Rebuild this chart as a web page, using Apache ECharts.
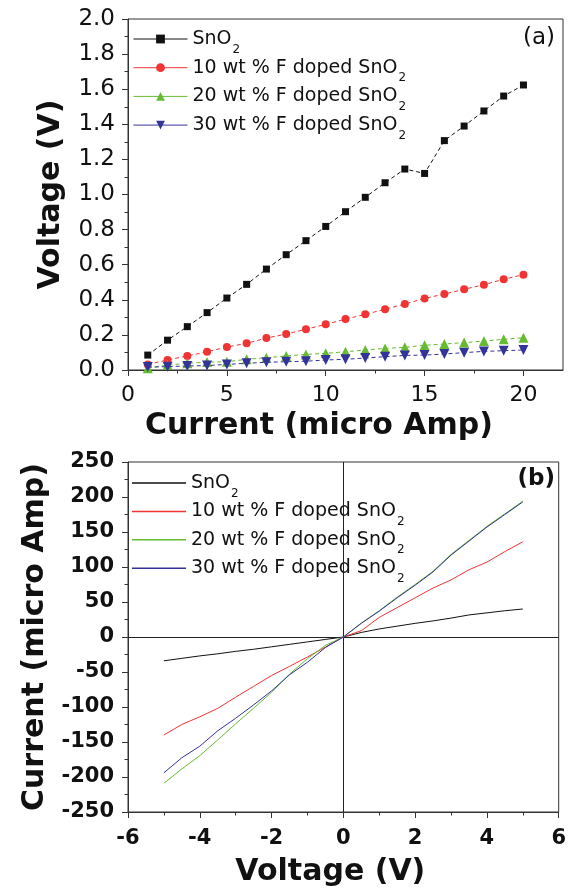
<!DOCTYPE html>
<html>
<head>
<meta charset="utf-8">
<script src="https://cdn.jsdelivr.net/npm/echarts@6/dist/echarts.min.js"></script>
<style>
  html, body { margin: 0; padding: 0; background: #fff; }
  #chart { width: 569px; height: 890px; }
</style>
</head>
<body>
<div id="chart"></div>
<script>
// ---- (a) voltage measured at each applied current (µA) ----
const currentUA = [1, 2, 3, 4, 5, 6, 7, 8, 9, 10, 11, 12, 13, 14, 15, 16, 17, 18, 19, 20];
const voltSnO2 = [0.085, 0.17, 0.247, 0.327, 0.41, 0.488, 0.575, 0.657, 0.737, 0.818, 0.902, 0.984, 1.067, 1.145, 1.12, 1.307, 1.39, 1.476, 1.561, 1.624];
const volt10F  = [0.032, 0.057, 0.08, 0.104, 0.131, 0.152, 0.182, 0.205, 0.232, 0.26, 0.29, 0.317, 0.346, 0.376, 0.408, 0.433, 0.46, 0.486, 0.517, 0.543];
const volt20F  = [0.01, 0.028, 0.038, 0.045, 0.047, 0.061, 0.07, 0.08, 0.089, 0.095, 0.104, 0.114, 0.123, 0.129, 0.141, 0.148, 0.156, 0.165, 0.175, 0.184];
const volt30F  = [0.017, 0.019, 0.023, 0.025, 0.032, 0.038, 0.044, 0.047, 0.05, 0.057, 0.061, 0.068, 0.076, 0.083, 0.085, 0.091, 0.099, 0.106, 0.11, 0.114];

// ---- (b) current measured during the voltage sweep ----
const sweepV = [-5, -4.5, -4, -3.5, -3, -2.5, -2, -1.5, -1, -0.5, 0, 0.5, 1, 1.5, 2, 2.5, 3, 3.5, 4, 4.5, 5];
const ampSnO2 = [-34, -30.5, -27, -24, -20.5, -17.5, -14, -10.5, -7, -3.5, 0, 6.5, 11.5, 15.5, 19.5, 23, 27, 31.5, 34.5, 37.5, 40];
const amp10F  = [-140, -125, -114, -102, -86, -70.5, -55, -42, -28.5, -14.5, 0, 9, 28, 42, 56, 70, 81.5, 96, 107, 122, 136];
const amp20F  = [-209, -188.5, -169.5, -147, -124, -101.7, -79, -53, -31, -12, 0, 20, 37.5, 57, 75, 94, 118, 138, 158, 176, 194];
const amp30F  = [-194, -172.5, -156, -134, -116, -97, -77, -54, -36, -15, 0, 19.5, 37, 56, 74, 93, 117, 137, 157, 175, 193];

// ---- labels / ticks ----
const sampleNames = ['SnO2', '10 wt % F doped SnO2', '20 wt % F doped SnO2', '30 wt % F doped SnO2'];
const currentTicks = [0, 5, 10, 15, 20];
const currentMinorTicks = [2.5, 7.5, 12.5, 17.5];

const FONT = 'DejaVu Sans';
const INK = '#111';
const AXIS = '#333';
const colors = ['#111111', '#f03434', '#66bb33', '#33339a'];

const zip = (xs, ys) => xs.map((x, i) => [x, ys[i]]);

const legendRich = {
  m: { fontFamily: FONT, fontSize: 19, lineHeight: 33, color: INK },
  s: { fontFamily: FONT, fontSize: 12, lineHeight: 12, verticalAlign: 'bottom', color: INK, padding: [0, 0, 0, 1] }
};
const legendFormatter = n => n.endsWith('SnO2') ? '{m|' + n.slice(0, -1) + '}{s|2}' : '{m|' + n + '}';

const nameStyle = { fontFamily: FONT, fontSize: 30, fontWeight: 'bold', color: INK };
const axisLine = { show: true, onZero: false, lineStyle: { color: AXIS, width: 1 } };
const majorTick = { show: true, length: 6, lineStyle: { color: AXIS, width: 1 } };
const minorTick = { show: true, splitNumber: 2, length: 3.5, lineStyle: { color: AXIS, width: 1 } };

const symbols = ['rect', 'circle', 'triangle', 'triangle'];
const symbolSizes = [7, 8, 10, 10];
const symbolRot = [0, 0, 0, 180];
const topData = [voltSnO2, volt10F, volt20F, volt30F];
const botData = [ampSnO2, amp10F, amp20F, amp30F];

const series = [];
sampleNames.forEach((name, i) => {
  series.push({
    name, type: 'line', xAxisIndex: 0, yAxisIndex: 0,
    data: zip(currentUA, topData[i]),
    symbol: symbols[i], symbolSize: symbolSizes[i], symbolRotate: symbolRot[i],
    lineStyle: { color: colors[i], width: 1, type: [4, 3] },
    itemStyle: { color: colors[i] },
    z: 3 + i
  });
});
sampleNames.forEach((name, i) => {
  const s = {
    name, type: 'line', xAxisIndex: 2, yAxisIndex: 1,
    data: zip(sweepV, botData[i]),
    symbol: 'none', showSymbol: false,
    lineStyle: { color: colors[i], width: 1 },
    itemStyle: { color: colors[i] },
    z: 3 + i
  };
  if (i === 0) {
    s.markLine = {
      silent: true, symbol: 'none', label: { show: false },
      lineStyle: { color: '#222', type: 'solid', width: 1 },
      data: [{ xAxis: 0 }, { yAxis: 0 }]
    };
  }
  series.push(s);
});

const option = {
  animation: false,
  backgroundColor: '#fff',
  textStyle: { fontFamily: FONT },
  title: [
    { text: '(a)', right: 14, top: 27, padding: 0, textStyle: { fontFamily: FONT, fontSize: 23, fontWeight: 'normal', color: INK } },
    { text: '(b)', right: 14, top: 468, padding: 0, textStyle: { fontFamily: FONT, fontSize: 23, fontWeight: 'bold', color: INK } }
  ],
  grid: [
    { left: 128, top: 19, width: 435, height: 351, show: true, borderColor: AXIS, borderWidth: 1, backgroundColor: 'transparent' },
    { left: 128, top: 462, width: 435, height: 350, show: true, borderColor: AXIS, borderWidth: 1, backgroundColor: 'transparent' }
  ],
  legend: [
    {
      data: sampleNames, orient: 'vertical', left: 133, top: 29.5, padding: 0,
      itemWidth: 54, itemHeight: 11, itemGap: 2.7, selectedMode: false,
      lineStyle: { type: 'solid', width: 1 },
      formatter: legendFormatter,
      textStyle: { rich: legendRich, color: INK }
    },
    {
      data: sampleNames, orient: 'vertical', left: 132, top: 473.5, padding: 0,
      itemWidth: 54, itemHeight: 1.5, itemGap: 2.4, selectedMode: false,
      icon: 'rect',
      formatter: legendFormatter,
      textStyle: { rich: legendRich, color: INK }
    }
  ],
  xAxis: [
    {
      gridIndex: 0, type: 'value', min: 0, max: 22, interval: 5, position: 'bottom',
      axisLine, axisTick: Object.assign({ customValues: currentTicks }, majorTick),
      axisLabel: { customValues: currentTicks, fontFamily: FONT, fontSize: 22, color: INK, margin: 14 },
      splitLine: { show: false },
      name: 'Current (micro Amp)', nameLocation: 'middle', nameGap: 41,
      nameTextStyle: Object.assign({ padding: [0, 53, 0, 0] }, nameStyle)
    },
    {
      gridIndex: 0, type: 'value', min: 0, max: 22, position: 'bottom',
      axisLine: { show: false, onZero: false },
      axisTick: { show: true, customValues: currentMinorTicks, length: 3.5, lineStyle: { color: AXIS, width: 1 } },
      axisLabel: { show: false }, splitLine: { show: false }
    },
    {
      gridIndex: 1, type: 'value', min: -6, max: 6, interval: 2, position: 'bottom',
      axisLine, axisTick: majorTick, minorTick,
      axisLabel: { fontFamily: FONT, fontSize: 21, fontWeight: 'bold', color: INK, margin: 16 },
      splitLine: { show: false },
      name: 'Voltage (V)', nameLocation: 'middle', nameGap: 45,
      nameTextStyle: Object.assign({ padding: [0, 26, 0, 0] }, nameStyle)
    }
  ],
  yAxis: [
    {
      gridIndex: 0, type: 'value', min: 0, max: 2, interval: 0.2,
      axisLine, axisTick: majorTick, minorTick,
      axisLabel: { fontFamily: FONT, fontSize: 23, color: INK, margin: 13, formatter: v => v.toFixed(1) },
      splitLine: { show: false },
      name: 'Voltage (V)', nameLocation: 'middle', nameGap: 62, nameTextStyle: nameStyle
    },
    {
      gridIndex: 1, type: 'value', min: -250, max: 250, interval: 50,
      axisLine, axisTick: majorTick, minorTick,
      axisLabel: { fontFamily: FONT, fontSize: 21, fontWeight: 'bold', color: INK, margin: 14 },
      splitLine: { show: false },
      name: 'Current (micro Amp)', nameLocation: 'middle', nameGap: 66, nameTextStyle: nameStyle
    }
  ],
  series
};

const chart = echarts.init(document.getElementById('chart'), null, { renderer: 'canvas' });
chart.setOption(option);
</script>
</body>
</html>
